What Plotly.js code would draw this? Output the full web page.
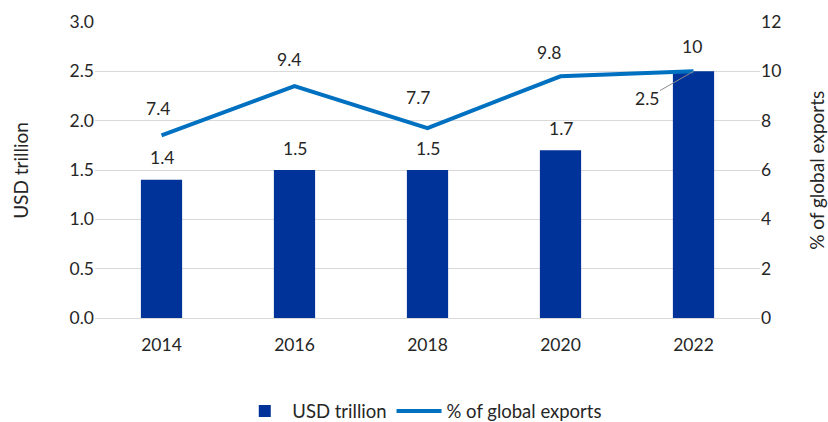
<!DOCTYPE html>
<html><head><meta charset="utf-8">
<script src="https://cdn.plot.ly/plotly-3.0.1.min.js"></script>
<style>html,body{margin:0;padding:0;background:#fff}#chart{width:828px;height:422px}</style>
</head><body><div id="chart"></div>
<script>
const years = [2014, 2016, 2018, 2020, 2022];
const usdTrillion = [1.4, 1.5, 1.5, 1.7, 2.5];
const pctGlobal = [7.4, 9.4, 7.7, 9.8, 10];
const leftTicks = [0,0.5,1,1.5,2,2.5,3];
const rightTicks = [0,2,4,6,8,10,12];

const font = {family:'Lato, Carlito, Calibri, sans-serif', size:17.5, color:'#262626'};
const titleFont = {family:'Lato, Carlito, Calibri, sans-serif', size:19, color:'#262626'};
const legendFont = {family:'Lato, Carlito, Calibri, sans-serif', size:18.5, color:'#262626'};

const bars = {type:'bar', x:years, y:usdTrillion, name:'USD trillion', marker:{color:'#003399'}, width:0.62, hoverinfo:'skip'};
const line = {type:'scatter', mode:'lines', x:years, y:pctGlobal, name:'% of global exports', yaxis:'y2', line:{color:'#0070C0', width:4}, hoverinfo:'skip'};

const ann = [];
usdTrillion.forEach((v,i)=>{
  if (i === usdTrillion.length-1) {
    ann.push({x:years[i], y:v, xref:'x', yref:'y', text:v.toFixed(1), showarrow:true, arrowhead:0, arrowwidth:1, arrowcolor:'#8c8c8c', ax:-47, ay:27, font:font});
  } else {
    ann.push({x:years[i], y:v, xref:'x', yref:'y', text:v.toFixed(1), showarrow:false, yshift:22, font:font});
  }
});
const lineYShift = [27, 27, 31, 24, 25];
const lineXShift = [-4, -6, -10, -12, -2];
pctGlobal.forEach((v,i)=>{
  ann.push({x:years[i], y:v, xref:'x', yref:'y2', text:String(v), showarrow:false, yshift:lineYShift[i], xshift:lineXShift[i], font:font});
});
ann.push({xref:'paper', yref:'paper', x:-0.113, y:0.5, text:'USD trillion', textangle:-90, showarrow:false, font:titleFont, xanchor:'center', yanchor:'middle'});
ann.push({xref:'paper', yref:'paper', x:1.084, y:0.5, text:'% of global exports', textangle:-90, showarrow:false, font:titleFont, xanchor:'center', yanchor:'middle'});

const layout = {
  width:828, height:422,
  margin:{l:95, r:68, t:22, b:104},
  paper_bgcolor:'#fff', plot_bgcolor:'#fff',
  font:font,
  showlegend:true,
  legend:{orientation:'h', x:0.51, xref:'container', xanchor:'center', yref:'container', y:0.025, yanchor:'middle', font:legendFont, traceorder:'normal', itemwidth:45},
  xaxis:{type:'linear', range:[2013, 2023], tickvals:years, tickfont:font, showgrid:false, showline:false, zeroline:false, ticks:'', ticklabelstandoff:14},
  yaxis:{range:[0,3], tickvals:leftTicks, tickformat:'.1f', showgrid:true, gridcolor:'#d9d9d9', gridwidth:1, zeroline:true, zerolinecolor:'#d9d9d9', tickfont:font, ticks:''},
  yaxis2:{range:[0,12], tickvals:rightTicks, overlaying:'y', side:'right', showgrid:false, zeroline:false, tickfont:font, ticks:''},
  annotations:ann
};
Plotly.newPlot('chart', [bars, line], layout, {staticPlot:true, displayModeBar:false});
</script></body></html>
